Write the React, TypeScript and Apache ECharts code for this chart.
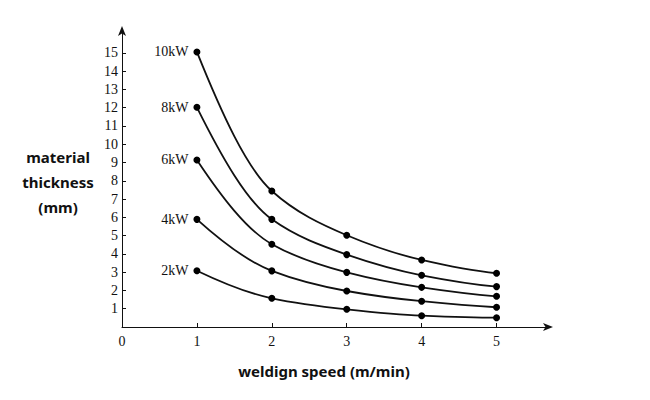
import React, { useEffect, useRef } from "react";
import * as echarts from "echarts";

const speeds = [1, 2, 3, 4, 5];
const seriesNames = ["2kW", "4kW", "6kW", "8kW", "10kW"];
const thickness2kW = [3.08, 1.57, 0.97, 0.62, 0.51];
const thickness4kW = [5.89, 3.07, 1.97, 1.41, 1.08];
const thickness6kW = [9.14, 4.53, 2.99, 2.17, 1.68];
const thickness8kW = [12.02, 5.89, 3.96, 2.83, 2.21];
const thickness10kW = [15.05, 7.44, 5.02, 3.67, 2.94];
const yTickValues = [1, 2, 3, 4, 5, 6, 7, 8, 9, 10, 11, 12, 13, 14, 15];
const xTickValues = [0, 1, 2, 3, 4, 5];
const yTitle = "material\nthickness\n(mm)";
const xTitle = "weldign speed (m/min)";

const allSeries = [thickness2kW, thickness4kW, thickness6kW, thickness8kW, thickness10kW];

// Monotone cubic (Fritsch-Carlson) tangents in data space
function tangents(xs: number[], ys: number[]): number[] {
  const n = xs.length;
  const h: number[] = [];
  const d: number[] = [];
  for (let i = 0; i < n - 1; i++) {
    h.push(xs[i + 1] - xs[i]);
    d.push((ys[i + 1] - ys[i]) / h[i]);
  }
  const m: number[] = new Array(n).fill(0);
  const endTangent = (h0: number, h1: number, d0: number, d1: number) => {
    let t = ((2 * h0 + h1) * d0 - h0 * d1) / (h0 + h1);
    if (Math.sign(t) !== Math.sign(d0)) t = 0;
    else if (Math.sign(d0) !== Math.sign(d1) && Math.abs(t) > Math.abs(3 * d0)) t = 3 * d0;
    return t;
  };
  m[0] = endTangent(h[0], h[1], d[0], d[1]);
  m[n - 1] = endTangent(h[n - 2], h[n - 3], d[n - 2], d[n - 3]);
  for (let k = 1; k < n - 1; k++) {
    if (d[k - 1] * d[k] <= 0) m[k] = 0;
    else {
      const w1 = 2 * h[k] + h[k - 1];
      const w2 = h[k] + 2 * h[k - 1];
      m[k] = (w1 + w2) / (w1 / d[k - 1] + w2 / d[k]);
    }
  }
  return m;
}

export default function App() {
  const ref = useRef<HTMLDivElement>(null);
  useEffect(() => {
    if (!ref.current) return;
    const chart = echarts.init(ref.current, undefined, { renderer: "svg" });
    const ink = "#111";
    const curveSeries = allSeries.map((vals, si) => {
      const m = tangents(speeds, vals);
      return {
        name: seriesNames[si] + " curve",
        type: "custom",
        z: 2,
        clip: false,
        data: vals.map((v, i) => [speeds[i], v]),
        renderItem: (params: any, api: any) => {
          const i = params.dataIndex;
          if (i >= vals.length - 1) return null;
          const x0 = speeds[i];
          const x1 = speeds[i + 1];
          const y0 = vals[i];
          const y1 = vals[i + 1];
          const h = x1 - x0;
          const p0 = api.coord([x0, y0]);
          const p1 = api.coord([x1, y1]);
          const c1 = api.coord([x0 + h / 3, y0 + (m[i] * h) / 3]);
          const c2 = api.coord([x1 - h / 3, y1 - (m[i + 1] * h) / 3]);
          return {
            type: "bezierCurve",
            shape: {
              x1: p0[0],
              y1: p0[1],
              x2: p1[0],
              y2: p1[1],
              cpx1: c1[0],
              cpy1: c1[1],
              cpx2: c2[0],
              cpy2: c2[1],
            },
            style: { stroke: ink, fill: "none", lineWidth: 1.8 },
          };
        },
      };
    });
    const pointSeries = allSeries.map((vals, si) => ({
      name: seriesNames[si],
      type: "scatter",
      z: 3,
      symbol: "circle",
      symbolSize: 7,
      itemStyle: { color: "#000", opacity: 1 },
      data: vals.map((v, i) => ({
        value: [speeds[i], v],
        label:
          i === 0
            ? {
                show: true,
                position: "left",
                distance: 5,
                formatter: seriesNames[si],
                fontFamily: "Liberation Serif",
                fontSize: 14,
                color: "#111",
              }
            : { show: false },
      })),
    }));
    chart.setOption({
      animation: false,
      backgroundColor: "#fff",
      grid: { left: 122, right: 101, top: 30, bottom: 73 },
      xAxis: {
        type: "value",
        min: 0,
        max: 5.7,
        splitLine: { show: false },
        axisLine: {
          lineStyle: { color: ink, width: 1 },
          symbol: ["none", "arrow"],
          symbolSize: [6, 10],
          symbolOffset: [0, 4],
        },
        axisTick: { inside: true, length: 4, lineStyle: { color: ink }, customValues: xTickValues },
        axisLabel: {
          customValues: xTickValues,
          color: "#111",
          fontFamily: "Liberation Serif",
          fontSize: 14,
          margin: 7,
        },
      },
      yAxis: {
        type: "value",
        min: 0,
        max: 16.25,
        splitLine: { show: false },
        axisLine: {
          lineStyle: { color: ink, width: 1 },
          symbol: ["none", "arrow"],
          symbolSize: [6, 10],
          symbolOffset: [0, 4],
        },
        axisTick: { inside: true, length: 4, lineStyle: { color: ink }, customValues: yTickValues },
        axisLabel: {
          customValues: yTickValues,
          color: "#111",
          fontFamily: "Liberation Serif",
          fontSize: 14,
          margin: 4,
        },
      },
      graphic: [
        {
          type: "text",
          x: 58,
          y: 182,
          style: {
            text: yTitle,
            fontFamily: "Noto Sans",
            fontWeight: "bold",
            fontSize: 15,
            lineHeight: 25,
            fill: "#111",
            align: "center",
            verticalAlign: "middle",
          },
        },
        {
          type: "text",
          x: 324,
          y: 371,
          style: {
            text: xTitle,
            fontFamily: "Noto Sans",
            fontWeight: "bold",
            fontSize: 15,
            fill: "#111",
            align: "center",
            verticalAlign: "middle",
          },
        },
      ],
      series: [...curveSeries, ...pointSeries],
    });
    return () => chart.dispose();
  }, []);
  return (
    <div
      ref={ref}
      style={{ position: "fixed", left: 0, top: 0, width: 650, height: 400 }}
    />
  );
}
